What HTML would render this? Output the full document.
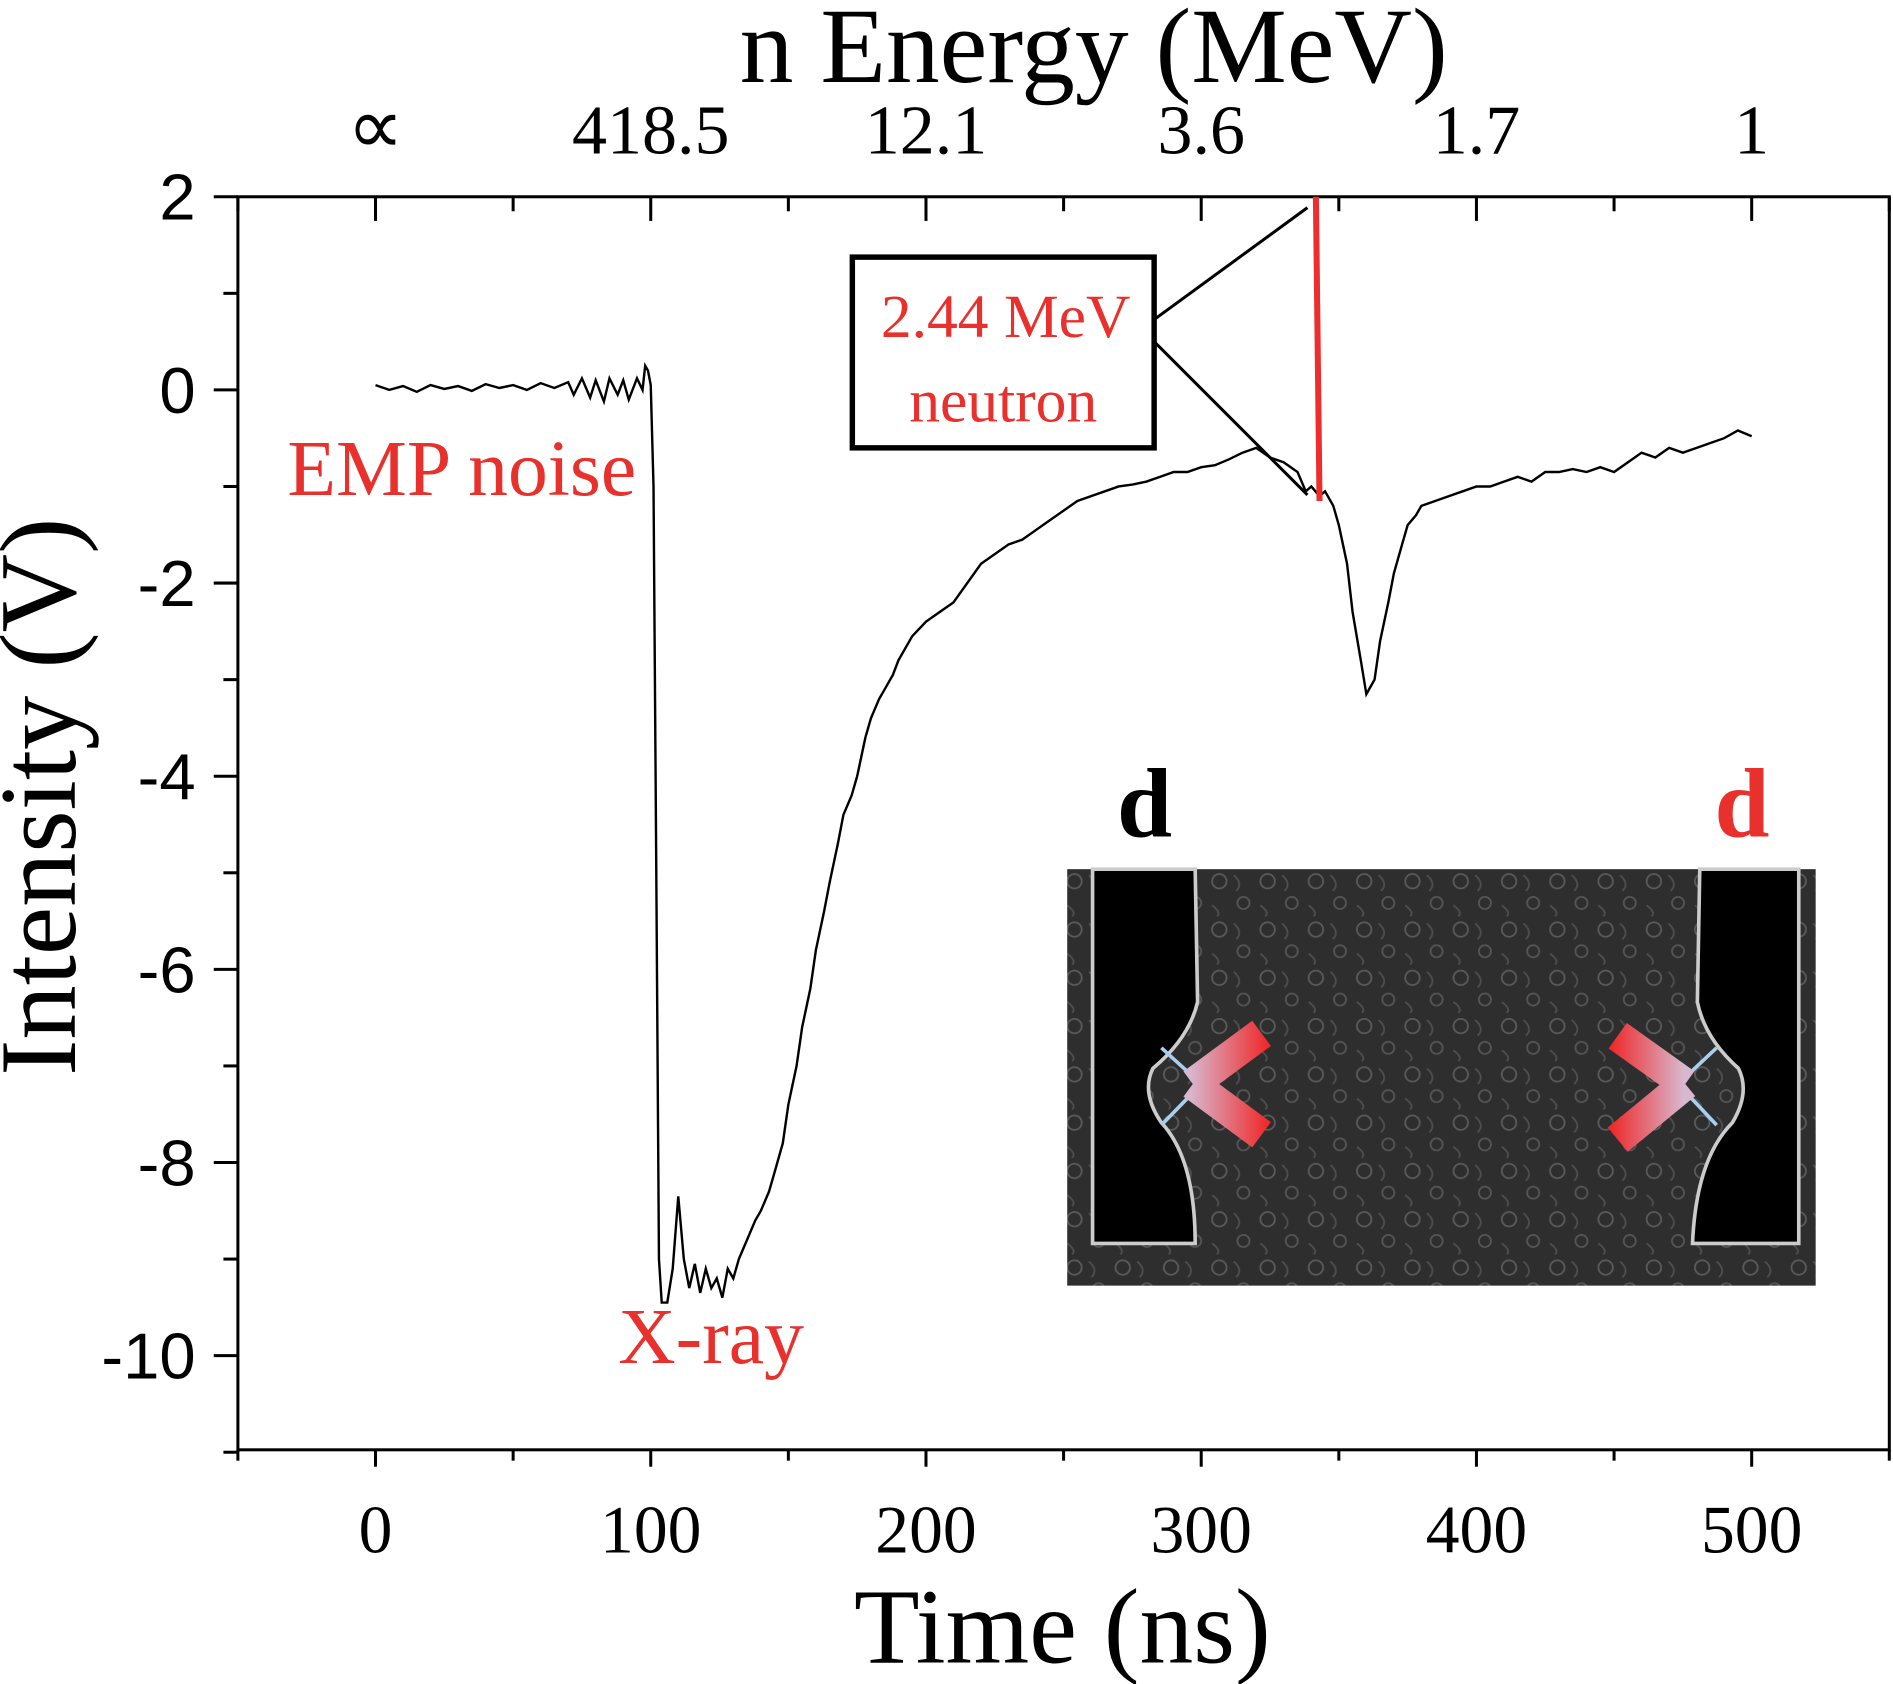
<!DOCTYPE html>
<html><head><meta charset="utf-8"><style>
html,body{margin:0;padding:0;background:#fff;}
svg{display:block;}
.serif{font-family:"Liberation Serif",serif;}
.sans{font-family:"Liberation Sans",sans-serif;}
</style></head><body>
<svg id="chart" width="1893" height="1684" viewBox="0 0 1568 1395" xmlns="http://www.w3.org/2000/svg">
<defs>
<linearGradient id="gl" gradientUnits="userSpaceOnUse" x1="985" y1="0" x2="1050" y2="0"><stop offset="0" stop-color="#d8b8d0"/><stop offset="1" stop-color="#ee2a2a"/></linearGradient>
<linearGradient id="gr" gradientUnits="userSpaceOnUse" x1="1395" y1="0" x2="1335" y2="0"><stop offset="0" stop-color="#d8b8d0"/><stop offset="1" stop-color="#ee2a2a"/></linearGradient>
<pattern id="tex" width="40" height="40" patternUnits="userSpaceOnUse">
<rect width="40" height="40" fill="#2e2e2e"/>
<circle cx="10" cy="10" r="6" fill="none" stroke="#5a5a5a" stroke-width="1.5"/>
<circle cx="30" cy="28" r="5" fill="none" stroke="#555" stroke-width="1.5"/>
<path d="M22,5 Q30,12 24,18" fill="none" stroke="#4e4e4e" stroke-width="1.5"/>
<path d="M4,30 Q12,36 8,39" fill="none" stroke="#4e4e4e" stroke-width="1.5"/>
</pattern>
</defs>
<g id="axes"></g>
<g id="series"></g>
<g>
<rect x="884" y="720" width="620" height="345" fill="url(#tex)"/>
<path d="M905,720 L990,720 L992,830 Q985,860 955,885 Q945,905 962,930 Q990,960 990,1030 L905,1030 Z" fill="#000" stroke="#ccc" stroke-width="3"/>
<path d="M1490,720 L1408,720 L1406,830 Q1412,860 1440,885 Q1450,905 1435,930 Q1405,960 1402,1030 L1490,1030 Z" fill="#000" stroke="#ccc" stroke-width="3"/>
<path d="M962,868 L995,898 L962,932" fill="none" stroke="#a8d0ee" stroke-width="3"/>
<path d="M988,898 L1045,856 M988,898 L1045,940" stroke="url(#gl)" stroke-width="26"/>
<path d="M1422,868 L1390,898 L1422,932" fill="none" stroke="#a8d0ee" stroke-width="3"/>
<path d="M1396,898 L1340,858 M1396,898 L1340,944" stroke="url(#gr)" stroke-width="26"/>
</g>
<text x="948" y="693" class="serif" font-size="82" font-weight="bold" text-anchor="middle">d</text>
<text x="1443" y="693" class="serif" font-size="82" font-weight="bold" fill="#e8302c" text-anchor="middle">d</text>
<line x1="1090" y1="163" x2="1093" y2="415" stroke="#ee2e2e" stroke-width="5"/>
<line x1="957" y1="264" x2="1083" y2="172" stroke="#000" stroke-width="2.5"/>
<line x1="957" y1="284" x2="1083" y2="410" stroke="#000" stroke-width="2.5"/>
<rect x="706" y="213" width="250" height="158" fill="#fff" stroke="#000" stroke-width="4.5"/>
<text x="833" y="279" class="serif" font-size="51" fill="#e8302c" text-anchor="middle">2.44 MeV</text>
<text x="831" y="349" class="serif" font-size="51" fill="#e8302c" text-anchor="middle">neutron</text>
<text x="238" y="410" class="serif" font-size="66" fill="#e8302c">EMP noise</text>
<text x="512" y="1129" class="serif" font-size="66" fill="#e8302c">X-ray</text>
<text x="906" y="68" class="serif" font-size="89" text-anchor="middle">n Energy (MeV)</text>
<text x="880" y="1377" class="serif" font-size="89" text-anchor="middle">Time (ns)</text>
<text transform="translate(62,660) rotate(-90)" class="serif" font-size="90" text-anchor="middle">Intensity (V)</text>
</svg>
<script>
const xTicks=[0,100,200,300,400,500];
const xTickLabels=["0","100","200","300","400","500"];
const topTickLabels=["\u221D","418.5","12.1","3.6","1.7","1"];
const yTicks=[2,0,-2,-4,-6,-8,-10];
const yTickLabels=["2","0","-2","-4","-6","-8","-10"];
const times=[0,5,10,15,20,25,30,35,40,45,50,55,60,65,70,72,75,78,80,83,85,88,90,92,95,97,98,99,100,101,102,103,104,106,108,110,112,114,116,118,120,122,124,126,128,130,132,135,138,140,143,145,148,150,153,155,158,160,163,165,168,170,173,175,178,180,183,185,188,190,195,200,205,210,215,220,225,230,235,240,245,250,255,260,265,270,275,280,285,290,295,300,305,310,315,320,325,330,335,338,340,343,345,348,350,353,355,358,360,363,365,368,370,373,375,378,380,385,390,395,400,405,410,415,420,425,430,435,440,445,450,455,460,465,470,475,480,485,490,495,500];
const volts=[0.05,0.0,0.04,-0.02,0.05,0.01,0.04,-0.01,0.06,0.02,0.05,0.0,0.07,0.02,0.08,-0.05,0.12,-0.08,0.1,-0.12,0.12,-0.05,0.1,-0.1,0.12,0.0,0.25,0.2,0.05,-1.0,-5.0,-9.0,-9.45,-9.45,-9.1,-8.35,-9.0,-9.3,-9.05,-9.35,-9.1,-9.3,-9.2,-9.4,-9.1,-9.2,-9.0,-8.8,-8.6,-8.5,-8.3,-8.1,-7.8,-7.4,-7.0,-6.6,-6.2,-5.8,-5.4,-5.1,-4.7,-4.4,-4.2,-4.0,-3.6,-3.4,-3.2,-3.1,-2.95,-2.8,-2.55,-2.4,-2.3,-2.2,-2.0,-1.8,-1.7,-1.6,-1.55,-1.45,-1.35,-1.25,-1.15,-1.1,-1.05,-1.0,-0.98,-0.95,-0.9,-0.85,-0.85,-0.8,-0.78,-0.72,-0.65,-0.6,-0.7,-0.75,-0.85,-1.05,-1.0,-1.1,-1.05,-1.2,-1.4,-1.8,-2.3,-2.8,-3.15,-3.0,-2.6,-2.2,-1.9,-1.6,-1.4,-1.3,-1.2,-1.15,-1.1,-1.05,-1.0,-1.0,-0.95,-0.9,-0.95,-0.85,-0.85,-0.82,-0.85,-0.8,-0.85,-0.75,-0.65,-0.7,-0.6,-0.65,-0.6,-0.55,-0.5,-0.42,-0.48];
const NS='http://www.w3.org/2000/svg';
function xs(t){return 311+(t-0)*2.28;}
function ys(v){return 323-v*80;}
const L=197,R=1565,T=163,B=1201;
const ax=document.getElementById('axes');
function mk(tag,attrs,parent){const e=document.createElementNS(NS,tag);for(const k in attrs)e.setAttribute(k,attrs[k]);parent.appendChild(e);return e;}
const frame=mk('rect',{x:L,y:T,width:R-L,height:B-T,fill:'none',stroke:'#000','stroke-width':2.5},ax);


for(let t=-50;t<=550;t+=50){
  const major=(t%100===0);
  const b=mk('line',{x1:xs(t),x2:xs(t),y1:B,y2:B+(major?14:9),stroke:'#000','stroke-width':2.5},ax);
  
  
  const tp=mk('line',{x1:xs(t),x2:xs(t),y1:T,y2:T+(major?20:12),stroke:'#000','stroke-width':2.5},ax);
  
  
}
xTicks.forEach((t,i)=>{
  const a=mk('text',{x:xs(t),y:1286,'text-anchor':'middle','font-size':56,'class':'serif'},ax);
  a.textContent=xTickLabels[i];
  
  
  const b=mk('text',{x:xs(t),y:127,'text-anchor':'middle','font-size':i===0?66:58,'class':'serif'},ax);
  b.textContent=topTickLabels[i];
  
  
});
for(let v=2;v>=-11;v-=1){
  const major=(v%2===0);
  const l=mk('line',{x1:L-(major?20:12),x2:L,y1:ys(v),y2:ys(v),stroke:'#000','stroke-width':2.5},ax);
  
  
}
yTicks.forEach((v,i)=>{
  const a=mk('text',{x:162,y:ys(v)+19,'text-anchor':'end','font-size':54,'class':'sans'},ax);
  a.textContent=yTickLabels[i];
  
  
});
const sg=document.getElementById('series');
let d='';
times.forEach((t,i)=>{d+=(i?'L':'M')+xs(t).toFixed(1)+','+ys(volts[i]).toFixed(1);});
const p=mk('path',{d:d,fill:'none',stroke:'#000','stroke-width':2},sg);


</script>
</body></html>
